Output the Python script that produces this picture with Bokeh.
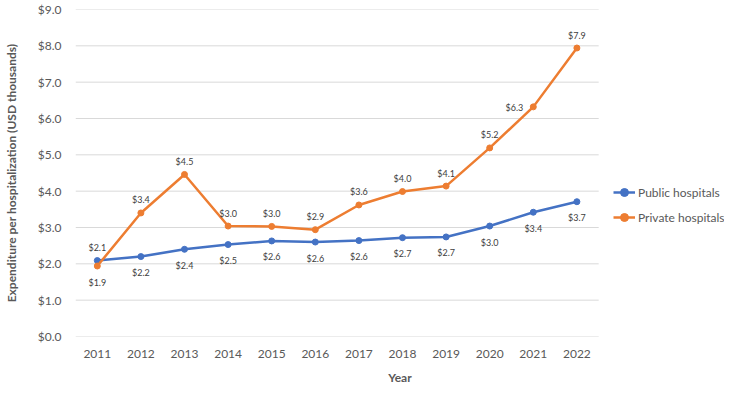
from bokeh.plotting import figure
from bokeh.models import Range1d, FixedTicker, ColumnDataSource, Legend, LegendItem
from bokeh.embed import file_html
from bokeh.resources import INLINE
from bokeh.core.properties import value

# ---- data ----
years = [2011, 2012, 2013, 2014, 2015, 2016, 2017, 2018, 2019, 2020, 2021, 2022]
public = [2.09, 2.20, 2.40, 2.53, 2.63, 2.60, 2.64, 2.72, 2.74, 3.04, 3.42, 3.71]
private = [1.94, 3.40, 4.46, 3.04, 3.03, 2.94, 3.62, 3.99, 4.14, 5.19, 6.32, 7.94]
series_names = ["Public hospitals", "Private hospitals"]
y_ticks = [0, 1, 2, 3, 4, 5, 6, 7, 8, 9]
y_tick_labels = ["$0.0", "$1.0", "$2.0", "$3.0", "$4.0", "$5.0", "$6.0", "$7.0", "$8.0", "$9.0"]
x_title = "Year"
y_title = "Expenditure per hospitalization (USD thousands)"

# label placement (style)
public_pos = ["above"] + ["below"] * 11
private_pos = ["below"] + ["above"] * 9 + ["left", "above"]

BLUE = "#4472C4"
ORANGE = "#ED7D31"
TXT = "#595959"
FONT = "Lato"

W, H = 724, 387
LEFT = 74
PLOT_W = 524            # width of the gridded plot area
x0 = years[0] - 0.5
x1 = years[-1] + 0.5
x_end = x0 + (x1 - x0) * (W - LEFT) / PLOT_W   # extra room on the right for the legend

p = figure(width=W, height=H, output_backend="svg", toolbar_location=None,
           x_range=Range1d(x0, x_end), y_range=Range1d(y_ticks[0], y_ticks[-1]),
           min_border_left=LEFT, min_border_right=0, min_border_top=9, min_border_bottom=0)
p.outline_line_color = None
p.background_fill_color = "white"
p.border_fill_color = "white"

p.xgrid.grid_line_color = None
p.ygrid.grid_line_color = None

# horizontal gridlines across the category area only
p.segment(x0=[x0] * len(y_ticks), x1=[x1] * len(y_ticks), y0=y_ticks, y1=y_ticks,
          line_color="#D9D9D9", line_width=1)

p.yaxis.ticker = FixedTicker(ticks=y_ticks)
p.yaxis.major_label_overrides = {t: l for t, l in zip(y_ticks, y_tick_labels)}
p.xaxis.ticker = FixedTicker(ticks=years)
p.xaxis.major_label_overrides = {y: str(y) for y in years}
for ax in (p.xaxis, p.yaxis):
    ax.axis_line_color = None
    ax.major_tick_line_color = None
    ax.minor_tick_line_color = None
    ax.major_label_text_font = FONT
    ax.major_label_text_font_size = "12px"
    ax.major_label_text_color = TXT
    ax.axis_label_text_font = FONT
    ax.axis_label_text_font_size = "12px"
    ax.axis_label_text_font_style = "bold"
    ax.axis_label_text_color = TXT
p.yaxis.major_label_standoff = 8
p.xaxis.major_label_standoff = 7
p.xaxis.axis_label = x_title
p.yaxis.axis_label = y_title
p.xaxis.axis_label_standoff = 9
p.yaxis.axis_label_standoff = 16

# ---- lines ----
r_pub_l = p.line(years, public, line_color=BLUE, line_width=2.5)
r_pub_m = p.scatter(years, public, size=6, fill_color=BLUE, line_color=BLUE)
r_pri_l = p.line(years, private, line_color=ORANGE, line_width=2.5)
r_pri_m = p.scatter(years, private, size=6, fill_color=ORANGE, line_color=ORANGE)

# ---- data labels ----
offsets = {"above": (0, 13, "center"), "below": (0, -16, "center"), "left": (-10, -1, "right")}

def add_labels(vals, pos):
    for key, (dx, dy, align) in offsets.items():
        xs = [x for x, ps in zip(years, pos) if ps == key]
        ys = [v for v, ps in zip(vals, pos) if ps == key]
        if not xs:
            continue
        src = ColumnDataSource(dict(x=xs, y=ys, t=["$%.1f" % v for v in ys]))
        p.text(x="x", y="y", text="t", source=src, x_offset=dx, y_offset=-dy,
               text_align=align, text_baseline="middle",
               text_font=value(FONT), text_font_size="9px", text_color="#404040")

add_labels(public, public_pos)
add_labels(private, private_pos)

# ---- legend ----
legend = Legend(items=[LegendItem(label=series_names[0], renderers=[r_pub_l, r_pub_m]),
                       LegendItem(label=series_names[1], renderers=[r_pri_l, r_pri_m])],
                location=(PLOT_W + 14, 109), orientation="vertical",
                margin=0, padding=0, spacing=5, glyph_width=22, glyph_height=20,
                label_height=20, label_standoff=3,
                label_text_font=FONT, label_text_font_size="12px", label_text_color=TXT,
                border_line_color=None, background_fill_alpha=0)
p.add_layout(legend, "center")

open("out.html", "w").write(file_html(p, INLINE))
